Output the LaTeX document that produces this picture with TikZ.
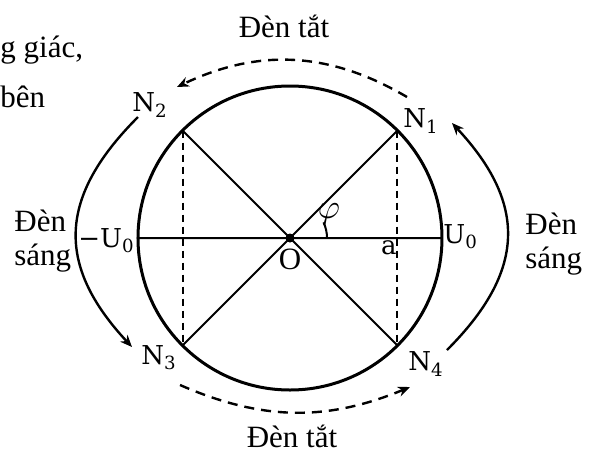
\documentclass[tikz,border=0pt]{standalone}
\usepackage{fontspec}
\setmainfont{Liberation Serif}
\newfontfamily\lblfont{DejaVu Serif}
\usetikzlibrary{arrows.meta,positioning}

\begin{document}
\begin{tikzpicture}[x=0.5pt,y=0.5pt,
  >={Stealth[length=6pt,width=5pt]},
  txt/.style={font=\fontsize{15.5}{17}\selectfont, inner sep=0pt},
  lbl/.style={font=\lblfont\fontsize{13}{15}\selectfont, inner sep=0pt},
  guide/.style={dash pattern=on 3.5pt off 2.5pt, line width=1pt},
  offarc/.style={dash pattern=on 5pt off 3.5pt, line width=1.2pt}]
  \useasboundingbox (-290,-214) rectangle (305,238);

  % circle, diameters and projections
  \node (O) [circle, fill, inner sep=0pt, minimum size=4.5pt] at (0,0) {};
  \draw[line width=1.5pt] (O) circle (152);
  \coordinate (N1) at (45:152);
  \coordinate (N2) at (135:152);
  \coordinate (N3) at (225:152);
  \coordinate (N4) at (315:152);
  \coordinate (A) at (152,0);
  \coordinate (B) at (-152,0);
  \draw[line width=1pt] (N1) -- (N3) (N2) -- (N4) (B) -- (A);
  \draw[guide] (N2) -- (N3) (N1) -- (N4);
  \draw[line width=1pt] (37,0) arc[start angle=0, end angle=25, radius=37];

  \node (n1) [lbl] at (131,117) {N\textsubscript{1}};
  \node (n2) [lbl] at (-140,133) {N\textsubscript{2}};
  \node (n3) [lbl] at (-131,-120) {N\textsubscript{3}};
  \node (n4) [lbl] at (136,-126) {N\textsubscript{4}};
  \node (mU) [lbl, anchor=east] at (-155,-3) {−U\textsubscript{0}};
  \node (pU) [lbl, anchor=west] at (153,1) {U\textsubscript{0}};
  \node (a) [lbl] at (99,-10) {a};
  \node (phi) [txt, font=\fontsize{18}{20}\selectfont] at (39,24) {$\varphi$};
  \node (Olbl) [txt, below=3pt of O] {O};

  % lamp on / off arcs
  \coordinate (t1) at (117,141);
  \coordinate (t2) at (-113,151);
  \coordinate (b1) at (-110,-147);
  \coordinate (b2) at (120,-149);
  \coordinate (l1) at (-152,121);
  \coordinate (l2) at (-158,-109);
  \coordinate (r1) at (157,-112);
  \coordinate (r2) at (162,115);
  \draw[->, offarc] (t1) to[bend right=28] (t2);
  \draw[->, offarc] (b1) to[bend right=23] (b2);
  \draw[->, line width=1.2pt] (l1) to[out=225, in=133, looseness=1.25] (l2);
  \draw[->, line width=1.2pt] (r1) to[out=45, in=-47, looseness=1.25] (r2);

  \node (offT) [txt, anchor=base] at (-6,201) {Đèn tắt};
  \node (offB) [txt, anchor=base] at (2,-209) {Đèn tắt};
  \node (onL) [txt, align=left, anchor=west] at (-276,-3) {Đèn\\sáng};
  \node (onR) [txt, align=left, anchor=west] at (235,-6) {Đèn\\sáng};
  \node (fr1) [txt, anchor=base west] at (-290,181) {g giác,};
  \node (fr2) [txt, anchor=base west] at (-290,131) {bên};
\end{tikzpicture}
\end{document}
